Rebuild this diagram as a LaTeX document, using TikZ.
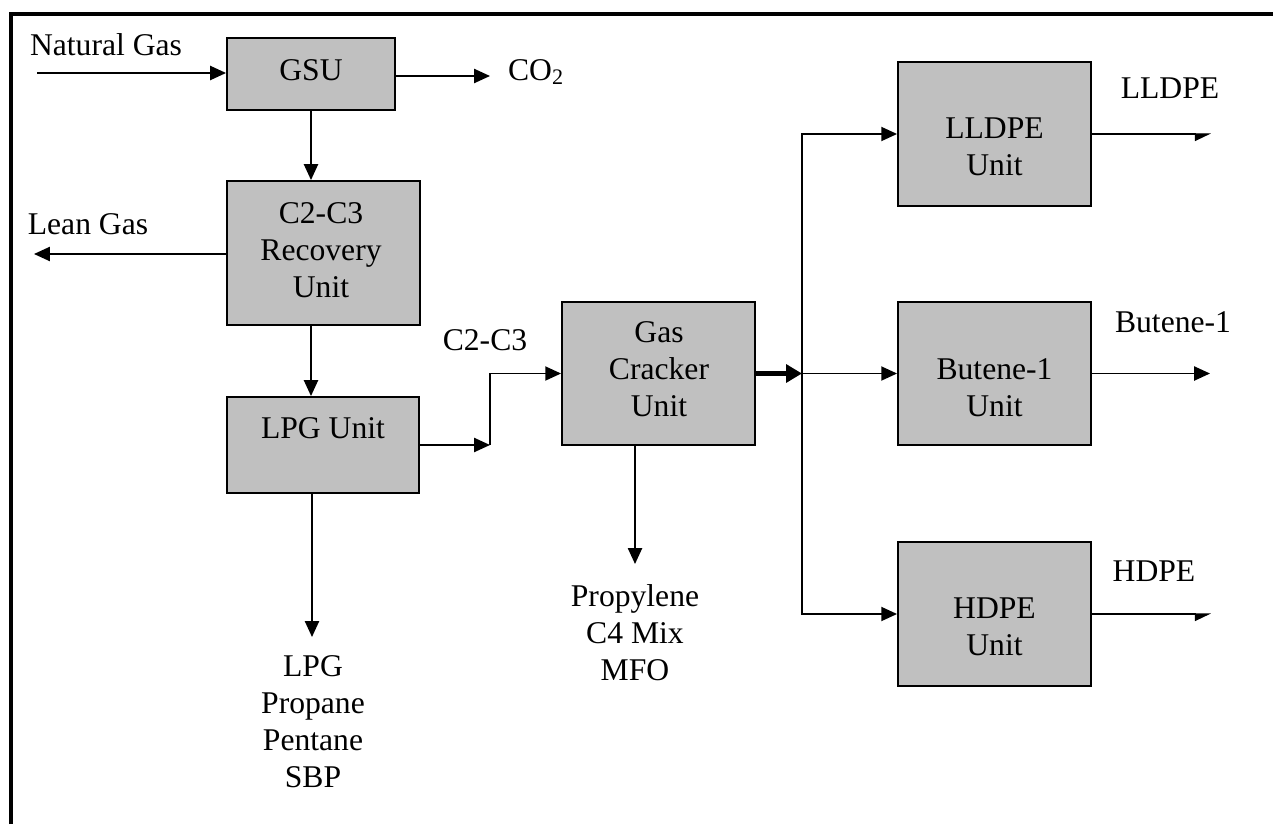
\documentclass[tikz,border=0pt]{standalone}
\usepackage{fontspec}
\setmainfont{Liberation Serif}
\usetikzlibrary{arrows.meta}
\definecolor{unitgray}{RGB}{192,192,192}
\tikzset{
  unitbox/.style={draw=black, fill=unitgray, line width=1.1pt, inner sep=0pt},
  lbl/.style={align=center, inner sep=0pt},
  flow/.style={line width=1pt, -{Triangle[length=9pt,width=8pt]}},
  bigflow/.style={line width=2.6pt, -{Triangle[length=9pt,width=10pt]}},
  thinflow/.style={line width=0.6pt, -{Triangle[length=8.5pt,width=8pt,harpoon,swap]}},
  frameline/.style={line width=2.4pt, line cap=butt},
}
\begin{document}
\begin{tikzpicture}[x=0.02cm, y=-0.02cm,
  every node/.style={font=\fontsize{18}{21}\selectfont}]
\useasboundingbox (0,0) rectangle (1273,824);
\draw[frameline] (11,824) -- (11,14) -- (1273,14);

% units
\node[unitbox, minimum width=3.36cm, minimum height=1.44cm] (gsu) at (311,74) {};
\node[lbl] at (311,70) {GSU};
\node[unitbox, minimum width=3.86cm, minimum height=2.88cm] (rec) at (323.5,253) {};
\node[lbl] at (321,250) {C2-C3\\Recovery\\Unit};
\node[unitbox, minimum width=3.84cm, minimum height=1.92cm] (lpg) at (323,445) {};
\node[lbl] at (323,428) {LPG Unit};
\node[unitbox, minimum width=3.86cm, minimum height=2.86cm] (crk) at (658.5,373.5) {};
\node[lbl] at (659,369) {Gas\\Cracker\\Unit};
\node[unitbox, minimum width=3.86cm, minimum height=2.88cm] (lld) at (994.5,134) {};
\node[lbl] at (994.5,147) {LLDPE\\Unit};
\node[unitbox, minimum width=3.86cm, minimum height=2.86cm] (but) at (994.5,373.5) {};
\node[lbl] at (994.5,388) {Butene-1\\Unit};
\node[unitbox, minimum width=3.86cm, minimum height=2.88cm] (hdp) at (994.5,614) {};
\node[lbl] at (994.5,627) {HDPE\\Unit};

% stream labels
\node[lbl] (ng) at (106,45) {Natural Gas};
\node[lbl] (co2) at (536,72) {CO\textsubscript{2}};
\node[lbl] (lean) at (88,224) {Lean Gas};
\node[lbl] (c2c3) at (485,340) {C2-C3};
\node[lbl] (lpgprod) at (313,722) {LPG\\Propane\\Pentane\\SBP};
\node[lbl] (crkprod) at (635,633) {Propylene\\C4 Mix\\MFO};
\node[lbl] (lldout) at (1170,88) {LLDPE};
\node[lbl] (butout) at (1173,322) {Butene-1};
\node[lbl] (hdpout) at (1154,571) {HDPE};

% free ends and bends
\coordinate (ngin) at (37,73);
\coordinate (co2end) at (490,76);
\coordinate (leanend) at (34,254);
\coordinate (lpgend) at (312,637);
\coordinate (crkend) at (635,564);
\coordinate (bend) at (490,445);
\coordinate (bus) at (802,373.5);
\coordinate (lldend) at (1211,134);
\coordinate (butend) at (1210,373.5);
\coordinate (hdpend) at (1211,614);

% streams
\draw[flow] (ngin) -- (ngin -| gsu.west);
\draw[flow] (co2end -| gsu.east) -- (co2end);
\draw[flow] (gsu.south) -- (gsu.south |- rec.north);
\draw[flow] (leanend -| rec.west) -- (leanend);
\draw[flow] (gsu.south |- rec.south) -- (gsu.south |- lpg.north);
\draw[flow] (lpgend |- lpg.south) -- (lpgend);
\draw[flow] (lpg.east) -- (bend);
\draw[flow] (bend) |- (crk.west);
\draw[flow] (crkend |- crk.south) -- (crkend);
\draw[bigflow] (crk.east) -- (bus);
\draw[flow] (bus) |- (lld.west);
\draw[flow] (bus) -- (but.west);
\draw[flow] (bus) |- (hdp.west);
\draw[thinflow] (lld.east) -- (lldend);
\draw[flow] (but.east) -- (butend);
\draw[thinflow] (hdp.east) -- (hdpend);
\end{tikzpicture}
\end{document}
